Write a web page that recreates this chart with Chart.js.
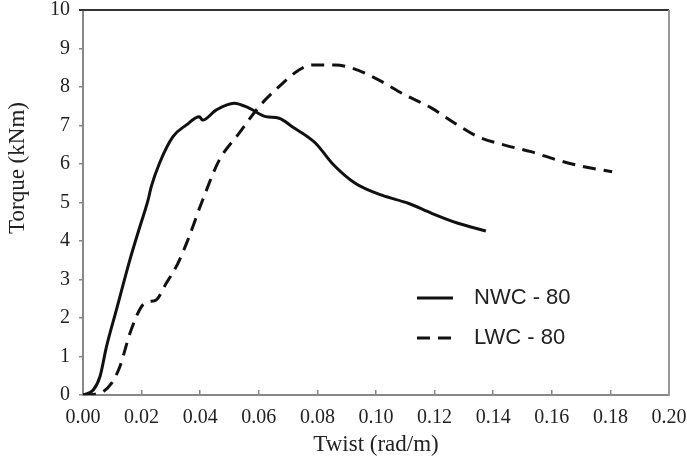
<!DOCTYPE html>
<html lang="en">
<head>
    <meta charset="UTF-8">
    <title>Torque vs Twist</title>
    <script src="https://cdn.jsdelivr.net/npm/chart.js"></script>
    <style>
        body {
            margin: 0;
            background-color: #ffffff;
        }
        #chartContainer {
            width: 687px;
            height: 470px;
        }
    </style>
</head>
<body>
    <div id="chartContainer">
        <canvas id="torqueChart"></canvas>
    </div>

    <script>
        // Data
        const seriesLabels = ['NWC - 80', 'LWC - 80'];

        const nwcTwist = [0, 0.0035, 0.0058, 0.0080, 0.0114, 0.016, 0.0194, 0.0222, 0.0233, 0.0261, 0.0307,
            0.0352, 0.0397, 0.0408, 0.0454, 0.0516, 0.0567, 0.0624, 0.0669, 0.0714, 0.0794, 0.085,
            0.0929, 0.102, 0.111, 0.119, 0.128, 0.1375];
        const nwcTorque = [0, 0.13, 0.48, 1.25, 2.21, 3.51, 4.37, 5.06, 5.41, 6.02, 6.71,
            7.01, 7.23, 7.14, 7.40, 7.58, 7.45, 7.23, 7.19, 6.97, 6.54, 6.02,
            5.50, 5.19, 4.98, 4.72, 4.46, 4.26];

        const lwcTwist = [0, 0.004, 0.0069, 0.0097, 0.0126, 0.016, 0.0199, 0.0222, 0.025, 0.0284, 0.0324,
            0.0358, 0.0408, 0.0465, 0.0533, 0.0601, 0.0669, 0.0737, 0.0782, 0.0861, 0.0918, 0.0997,
            0.110, 0.119, 0.1269, 0.1348, 0.1439, 0.1529, 0.162, 0.171, 0.1806];
        const lwcTorque = [0, 0.02, 0.09, 0.30, 0.74, 1.60, 2.29, 2.42, 2.47, 2.90, 3.42,
            4.03, 5.06, 6.10, 6.80, 7.49, 8.01, 8.44, 8.57, 8.57, 8.49, 8.23,
            7.79, 7.45, 7.06, 6.71, 6.49, 6.32, 6.10, 5.93, 5.80];

        const xTitle = 'Twist (rad/m)';
        const yTitle = 'Torque (kNm)';

        const toPoints = (xs, ys) => xs.map((x, i) => ({ x: x, y: ys[i] }));

        // frame (top + right) and y title
        const framePlugin = {
            id: 'frame',
            afterDraw(chart) {
                const { ctx, chartArea } = chart;
                ctx.save();
                ctx.lineWidth = 2;
                ctx.strokeStyle = '#333333';
                ctx.beginPath();
                ctx.moveTo(chartArea.left - 4, chartArea.top);
                ctx.lineTo(chartArea.right, chartArea.top);
                ctx.stroke();
                ctx.strokeStyle = '#999999';
                ctx.beginPath();
                ctx.moveTo(chartArea.right, chartArea.top);
                ctx.lineTo(chartArea.right, chartArea.bottom);
                ctx.stroke();

                ctx.fillStyle = '#222222';
                ctx.font = '23px "Liberation Serif"';
                ctx.textAlign = 'center';
                ctx.textBaseline = 'middle';
                ctx.translate(18, 168);
                ctx.rotate(-Math.PI / 2);
                ctx.fillText(yTitle, 0, 0);
                ctx.restore();
            }
        };

        // legend drawn inside the plot
        const legendPlugin = {
            id: 'insideLegend',
            afterDraw(chart) {
                const { ctx } = chart;
                ctx.save();
                ctx.font = '22px "Liberation Sans"';
                ctx.fillStyle = '#222222';
                ctx.textBaseline = 'middle';
                chart.data.datasets.forEach((ds, i) => {
                    const y = 298 + i * 40;
                    ctx.strokeStyle = ds.borderColor;
                    ctx.lineWidth = ds.borderWidth;
                    ctx.setLineDash(ds.borderDash || []);
                    ctx.beginPath();
                    ctx.moveTo(417, y);
                    ctx.lineTo(453, y);
                    ctx.stroke();
                    ctx.setLineDash([]);
                    ctx.fillText(ds.label, 474, y);
                });
                ctx.restore();
            }
        };

        const ctx = document.getElementById('torqueChart').getContext('2d');
        new Chart(ctx, {
            type: 'line',
            data: {
                datasets: [{
                    label: seriesLabels[0],
                    data: toPoints(nwcTwist, nwcTorque),
                    borderColor: '#111111',
                    borderWidth: 3,
                    pointRadius: 0,
                    cubicInterpolationMode: 'monotone',
                    fill: false
                }, {
                    label: seriesLabels[1],
                    data: toPoints(lwcTwist, lwcTorque),
                    borderColor: '#111111',
                    borderWidth: 3,
                    borderDash: [13, 8],
                    pointRadius: 0,
                    cubicInterpolationMode: 'monotone',
                    fill: false
                }]
            },
            options: {
                responsive: true,
                maintainAspectRatio: false,
                animation: false,
                layout: { padding: 0 },
                plugins: {
                    legend: { display: false },
                    tooltip: { enabled: false }
                },
                scales: {
                    x: {
                        type: 'linear',
                        min: 0,
                        max: 0.2,
                        afterFit: s => { s.height = 75; s.paddingRight = 18; s.paddingLeft = 0; },
                        border: { color: '#888888', width: 2 },
                        grid: { drawOnChartArea: false, color: '#888888', lineWidth: 1.5, tickLength: -5 },
                        ticks: {
                            stepSize: 0.02,
                            padding: 16,
                            color: '#222222',
                            font: { family: 'Liberation Serif', size: 20 },
                            maxRotation: 0,
                            callback: v => v.toFixed(2)
                        },
                        title: {
                            display: true,
                            text: xTitle,
                            color: '#222222',
                            font: { family: 'Liberation Serif', size: 23 },
                            padding: { top: 0, bottom: 11 }
                        }
                    },
                    y: {
                        min: 0,
                        max: 10,
                        afterFit: s => { s.width = 83; s.paddingTop = 10; s.paddingBottom = 0; },
                        border: { color: '#888888', width: 2 },
                        grid: { drawOnChartArea: false, color: '#888888', lineWidth: 1.5, tickLength: 4 },
                        ticks: {
                            stepSize: 1,
                            padding: 9,
                            color: '#222222',
                            font: { family: 'Liberation Serif', size: 20 }
                        }
                    }
                }
            },
            plugins: [framePlugin, legendPlugin]
        });
    </script>
</body>
</html>
